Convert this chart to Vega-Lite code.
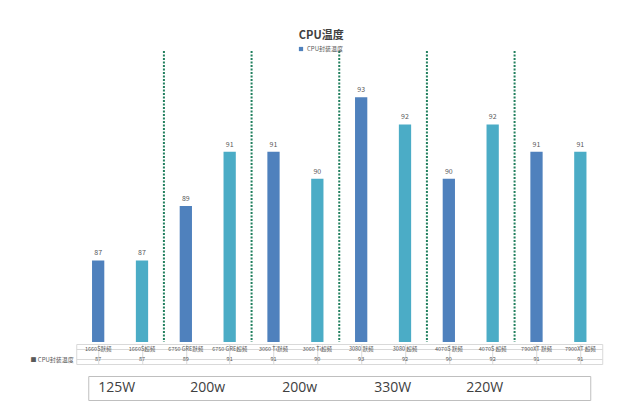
{
  "$schema": "https://vega.github.io/schema/vega-lite/v6.json",
  "padding": {"left": 25, "top": 30, "right": 20, "bottom": 7},
  "title": {"text": "CPU温度", "fontSize": 11, "fontWeight": "bold", "color": "#404040", "anchor": "middle", "offset": 5, "dx": 7},
  "datasets": {
    "temps": [
      {"cat": "1660S默频", "gpu": "1660S", "mode": "默频", "temp": 87},
      {"cat": "1660S超频", "gpu": "1660S", "mode": "超频", "temp": 87},
      {"cat": "6750 GRE默频", "gpu": "6750 GRE", "mode": "默频", "temp": 89},
      {"cat": "6750 GRE超频", "gpu": "6750 GRE", "mode": "超频", "temp": 91},
      {"cat": "3060 Ti默频", "gpu": "3060 Ti", "mode": "默频", "temp": 91},
      {"cat": "3060 Ti超频", "gpu": "3060 Ti", "mode": "超频", "temp": 90},
      {"cat": "3080 默频", "gpu": "3080", "mode": "默频", "temp": 93},
      {"cat": "3080 超频", "gpu": "3080", "mode": "超频", "temp": 92},
      {"cat": "4070S 默频", "gpu": "4070S", "mode": "默频", "temp": 90},
      {"cat": "4070S 超频", "gpu": "4070S", "mode": "超频", "temp": 92},
      {"cat": "7900XT 默频", "gpu": "7900XT", "mode": "默频", "temp": 91},
      {"cat": "7900XT 超频", "gpu": "7900XT", "mode": "超频", "temp": 91}
    ],
    "power": [
      {"gpu": "1660S", "watt": "125W"},
      {"gpu": "6750 GRE", "watt": "200w"},
      {"gpu": "3060 Ti", "watt": "200w"},
      {"gpu": "3080", "watt": "330W"},
      {"gpu": "4070S", "watt": "220W"}
    ]
  },
  "center": true,
  "spacing": 10,
  "vconcat": [
    {
      "spacing": 0,
      "vconcat": [
        {
          "width": 526,
          "height": 291,
          "view": {"stroke": null},
          "data": {"name": "temps"},
          "encoding": {
            "x": {"field": "cat", "type": "nominal", "axis": null,
                  "scale": {"domain": ["1660S默频", "1660S超频", "6750 GRE默频", "6750 GRE超频", "3060 Ti默频", "3060 Ti超频", "3080 默频", "3080 超频", "4070S 默频", "4070S 超频", "7900XT 默频", "7900XT 超频"],
                            "paddingInner": 0, "paddingOuter": 0}}
          },
          "layer": [
            {
              "transform": [{"filter": "datum.mode == '默频' && datum.gpu != '1660S'"}],
              "mark": {"type": "rule", "color": "#22805f", "strokeWidth": 2, "strokeDash": [2, 1.5]},
              "encoding": {
                "x": {"field": "cat", "type": "nominal", "bandPosition": 0}
              }
            },
            {
              "transform": [{"filter": "datum.mode == '默频'"}],
              "mark": {"type": "bar", "width": {"band": 0.28}, "clip": true},
              "encoding": {
                "y": {"field": "temp", "type": "quantitative", "axis": null,
                      "scale": {"domain": [84, 94.7], "nice": false, "zero": false}},
                "color": {"datum": "CPU封装温度", "scale": {"range": ["#4f81bd"]},
                  "legend": {"title": null, "orient": "none", "legendX": 222, "legendY": -5,
                    "symbolType": "square", "symbolSize": 18, "labelFontSize": 6, "labelColor": "#595959", "labelOffset": 3}}
              }
            },
            {
              "transform": [{"filter": "datum.mode == '超频'"}],
              "mark": {"type": "bar", "width": {"band": 0.28}, "color": "#4bacc6", "clip": true},
              "encoding": {
                "y": {"field": "temp", "type": "quantitative"}
              }
            },
            {
              "mark": {"type": "text", "dy": -7, "fontSize": 7, "color": "#595959"},
              "encoding": {
                "y": {"field": "temp", "type": "quantitative"},
                "text": {"field": "temp"}
              }
            }
          ]
        },
        {
          "width": 526,
          "height": 20,
          "view": {"stroke": "#d9d9d9"},
          "data": {"name": "temps"},
          "encoding": {
            "x": {"field": "cat", "type": "nominal",
                  "scale": {"domain": ["1660S默频", "1660S超频", "6750 GRE默频", "6750 GRE超频", "3060 Ti默频", "3060 Ti超频", "3080 默频", "3080 超频", "4070S 默频", "4070S 超频", "7900XT 默频", "7900XT 超频"],
                            "paddingInner": 0, "paddingOuter": 0},
                  "axis": {"orient": "top", "labels": false, "ticks": false, "domain": false, "title": null,
                           "grid": true, "bandPosition": 0, "gridColor": "#d9d9d9"}}
          },
          "layer": [
            {
              "mark": {"type": "text", "fontSize": 5.5, "color": "#595959"},
              "encoding": {
                "y": {"datum": "name", "type": "nominal",
                      "scale": {"domain": ["name", "value"], "paddingInner": 0, "paddingOuter": 0},
                      "axis": {"title": null, "ticks": false, "domain": false, "grid": true, "bandPosition": 0,
                               "gridColor": "#d9d9d9", "labelFontSize": 6, "labelColor": "#595959", "labelPadding": 3,
                               "minExtent": 50, "maxExtent": 50,
                               "labelExpr": "datum.value == 'value' ? '■ CPU封装温度' : ''"}},
                "text": {"field": "cat"}
              }
            },
            {
              "mark": {"type": "text", "fontSize": 5.5, "color": "#595959"},
              "encoding": {
                "y": {"datum": "value", "type": "nominal"},
                "text": {"field": "temp"}
              }
            }
          ]
        }
      ]
    },
    {
      "width": 502,
      "height": 24,
      "view": {"stroke": "#bfbfbf"},
      "data": {"name": "power"},
      "mark": {"type": "text", "align": "left", "dx": 10, "fontSize": 14, "color": "#404040", "font": "Open Sans"},
      "encoding": {
        "x": {"field": "gpu", "type": "nominal", "sort": null, "axis": null,
              "scale": {"type": "point", "padding": 0.728, "align": 0}},
        "text": {"field": "watt"}
      }
    }
  ],
  "config": {
    "font": "Noto Sans CJK SC",
    "background": "white"
  }
}
